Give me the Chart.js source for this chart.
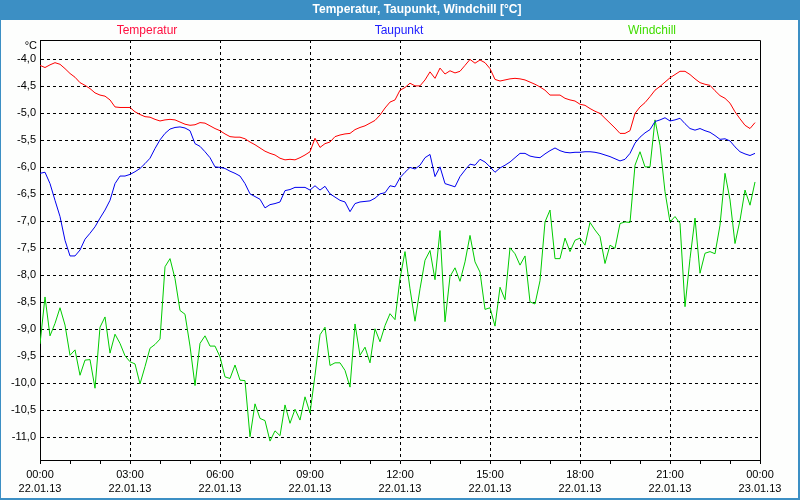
<!DOCTYPE html>
<html>
<head>
<meta charset="utf-8">
<script src="https://cdn.jsdelivr.net/npm/chart.js@4/dist/chart.umd.min.js"></script>
<style>
  html, body { margin: 0; padding: 0; background: #fff; }
  canvas { display: block; }
</style>
</head>
<body>
<canvas id="myChart" width="800" height="500"></canvas>
<script>
// Werte alle 10 Minuten, 00:00 bis 23:50
const temperatur = [
  -4.11, -4.15, -4.10, -4.06, -4.09, -4.17, -4.26, -4.33, -4.43, -4.48, -4.54, -4.62,
  -4.66, -4.68, -4.75, -4.88, -4.89, -4.89, -4.89, -4.97, -5.02, -5.06, -5.07, -5.11,
  -5.14, -5.12, -5.11, -5.12, -5.16, -5.20, -5.22, -5.21, -5.17, -5.18, -5.23, -5.28,
  -5.32, -5.38, -5.43, -5.44, -5.44, -5.47, -5.53, -5.58, -5.64, -5.70, -5.74, -5.77,
  -5.83, -5.86, -5.85, -5.86, -5.82, -5.77, -5.71, -5.46, -5.63, -5.56, -5.53, -5.43,
  -5.40, -5.38, -5.37, -5.30, -5.26, -5.23, -5.18, -5.13, -5.03, -4.90, -4.79, -4.75,
  -4.57, -4.52, -4.44, -4.49, -4.49, -4.38, -4.23, -4.35, -4.16, -4.27, -4.21, -4.25,
  -4.22, -4.11, -4.00, -4.07, -4.01, -4.06, -4.17, -4.37, -4.40, -4.38, -4.36, -4.35,
  -4.36, -4.38, -4.42, -4.46, -4.51, -4.57, -4.66, -4.66, -4.66, -4.72, -4.75, -4.77,
  -4.83, -4.85, -4.91, -4.96, -5.00, -5.09, -5.18, -5.27, -5.37, -5.37, -5.32, -5.00,
  -4.88, -4.80, -4.69, -4.57, -4.50, -4.42, -4.34, -4.28, -4.22, -4.22, -4.28, -4.36,
  -4.43, -4.46, -4.48, -4.58, -4.67, -4.72, -4.81, -4.97, -5.10, -5.22, -5.28, -5.17
];
const taupunkt = [
  -6.11, -6.09, -6.30, -6.61, -6.91, -7.35, -7.64, -7.64, -7.53, -7.33, -7.22, -7.10,
  -6.94, -6.79, -6.61, -6.30, -6.16, -6.16, -6.13, -6.08, -6.02, -5.93, -5.83, -5.65,
  -5.49, -5.37, -5.29, -5.26, -5.25, -5.27, -5.32, -5.56, -5.61, -5.71, -5.82, -5.99,
  -6.00, -6.02, -6.07, -6.11, -6.16, -6.30, -6.49, -6.54, -6.59, -6.75, -6.69, -6.67,
  -6.64, -6.43, -6.41, -6.37, -6.37, -6.37, -6.42, -6.34, -6.42, -6.35, -6.49, -6.55,
  -6.61, -6.64, -6.82, -6.67, -6.64, -6.63, -6.62, -6.57, -6.49, -6.47, -6.34, -6.36,
  -6.19, -6.09, -6.00, -6.03, -5.96, -5.82, -5.76, -6.17, -5.99, -6.30, -6.33, -6.36,
  -6.17, -6.05, -5.94, -5.96, -5.85, -5.90, -5.99, -6.09, -6.01, -5.96, -5.90, -5.82,
  -5.74, -5.74, -5.79, -5.81, -5.82, -5.75, -5.69, -5.64, -5.69, -5.72, -5.73, -5.72,
  -5.72, -5.71, -5.71, -5.72, -5.74, -5.77, -5.80, -5.84, -5.88, -5.85, -5.74, -5.55,
  -5.44, -5.36, -5.30, -5.15, -5.12, -5.08, -5.14, -5.12, -5.09, -5.19, -5.28, -5.31,
  -5.28, -5.32, -5.35, -5.41, -5.48, -5.47, -5.51, -5.62, -5.71, -5.75, -5.78, -5.74
];
const windchill = [
  -9.27, -8.40, -9.12, -8.89, -8.60, -8.92, -9.48, -9.38, -9.85, -9.57, -9.56, -10.09,
  -8.96, -8.77, -9.44, -9.09, -9.26, -9.49, -9.60, -9.64, -10.01, -9.69, -9.35, -9.28,
  -9.18, -7.84, -7.69, -8.06, -8.65, -8.72, -9.31, -10.04, -9.26, -9.12, -9.31, -9.31,
  -9.51, -9.88, -9.91, -9.66, -9.94, -9.95, -10.99, -10.38, -10.65, -10.69, -11.07, -10.88,
  -10.97, -10.40, -10.74, -10.48, -10.68, -10.25, -10.55, -9.85, -9.10, -8.96, -9.67, -9.62,
  -9.62, -9.76, -10.07, -8.90, -9.48, -9.33, -9.62, -8.99, -9.23, -8.93, -8.71, -8.82,
  -8.06, -7.56, -8.25, -8.85, -8.25, -7.72, -7.54, -8.08, -7.17, -8.86, -8.02, -7.86,
  -8.11, -7.75, -7.26, -7.75, -7.94, -8.63, -8.60, -8.94, -8.22, -8.45, -7.49, -7.60,
  -7.81, -7.64, -8.49, -8.53, -8.10, -7.01, -6.79, -7.69, -7.69, -7.31, -7.56, -7.35,
  -7.31, -7.44, -7.02, -7.16, -7.28, -7.78, -7.44, -7.50, -7.04, -7.01, -7.02, -5.96,
  -5.71, -5.99, -5.99, -5.12, -5.59, -6.45, -7.01, -6.91, -7.04, -8.58, -7.69, -6.94,
  -7.96, -7.59, -7.56, -7.60, -7.07, -6.11, -6.60, -7.41, -6.98, -6.42, -6.70, -6.27
];
const timeLabels = ["00:00", "03:00", "06:00", "09:00", "12:00", "15:00", "18:00", "21:00", "00:00"];
const dateLabels = ["22.01.13", "22.01.13", "22.01.13", "22.01.13", "22.01.13", "22.01.13", "22.01.13", "22.01.13", "23.01.13"];
const seriesNames = ["Temperatur", "Taupunkt", "Windchill"];

const FONT = '"Liberation Sans", Arial, sans-serif';
const stepHours = 1 / 6;

function toPoints(values) {
  return values.map((v, i) => ({ x: i * stepHours, y: v }));
}

// Fenster, Titelleiste, Legende und Rahmen
const framePlugin = {
  id: "frame",
  beforeDraw(chart) {
    const c = chart.ctx;
    c.save();
    c.fillStyle = "#3c8fc4";
    c.fillRect(0, 0, 800, 500);
    c.fillStyle = "#fdfefd";
    c.fillRect(1, 20, 797, 478);

    c.textBaseline = "middle";
    c.textAlign = "center";
    c.fillStyle = "#ffffff";
    c.font = "bold 12px " + FONT;
    c.fillText("Temperatur, Taupunkt, Windchill [°C]", 417, 10);

    c.font = "12px " + FONT;
    const legendX = [147, 399, 652];
    const legendColors = ["#ff1040", "#2020ff", "#40dd00"];
    seriesNames.forEach((name, i) => {
      c.fillStyle = legendColors[i];
      c.fillText(name, legendX[i], 31);
    });

    c.fillStyle = "#000";
    c.textAlign = "right";
    c.font = "11px " + FONT;
    c.fillText("°C", 37, 46);
    c.restore();
  },
  afterDraw(chart) {
    const a = chart.chartArea;
    const c = chart.ctx;
    c.save();
    c.strokeStyle = "#000";
    c.lineWidth = 1;
    c.beginPath();
    c.moveTo(a.left, a.top + 0.5);
    c.lineTo(a.right + 0.5, a.top + 0.5);
    c.lineTo(a.right + 0.5, a.bottom);
    c.stroke();
    c.restore();
  }
};

const ctx = document.getElementById("myChart").getContext("2d");

const myChart = new Chart(ctx, {
  type: "line",
  data: {
    datasets: [
      { label: seriesNames[0], data: toPoints(temperatur), borderColor: "#ff0000" },
      { label: seriesNames[1], data: toPoints(taupunkt), borderColor: "#0000f0" },
      { label: seriesNames[2], data: toPoints(windchill), borderColor: "#00cc00" }
    ]
  },
  options: {
    responsive: false,
    animation: false,
    events: [],
    layout: { padding: { top: 40, right: 40, left: 0, bottom: 0 } },
    elements: {
      line: { borderWidth: 1, tension: 0, fill: false },
      point: { radius: 0 }
    },
    plugins: {
      legend: { display: false },
      title: { display: false },
      tooltip: { enabled: false }
    },
    scales: {
      x: {
        type: "linear",
        min: 0,
        max: 24,
        afterFit: (s) => { s.height = 40; },
        ticks: {
          stepSize: 1,
          autoSkip: false,
          maxRotation: 0,
          padding: 4,
          color: "#000",
          font: { family: FONT, size: 11, lineHeight: 1.27 },
          callback: (v) => (v % 3 === 0 ? [timeLabels[v / 3], dateLabels[v / 3]] : "")
        },
        grid: {
          drawTicks: true,
          tickLength: 4,
          tickColor: "#000",
          color: (c) => {
            const v = c.tick ? c.tick.value : 0;
            return v % 3 === 0 && v > 0 && v < 24 ? "#000" : "rgba(0,0,0,0)";
          }
        },
        border: { display: true, color: "#000", width: 1, dash: [3, 3] }
      },
      y: {
        min: -11.42,
        max: -3.64,
        afterFit: (s) => { s.width = 40; },
        ticks: {
          stepSize: 0.5,
          includeBounds: false,
          padding: 4,
          color: "#000",
          font: { family: FONT, size: 11 },
          callback: (v) => v.toFixed(1).replace(".", ",")
        },
        grid: { drawTicks: false, color: "#000" },
        border: { display: true, color: "#000", width: 1, dash: [3, 3] }
      }
    }
  },
  plugins: [framePlugin]
});
</script>
</body>
</html>
